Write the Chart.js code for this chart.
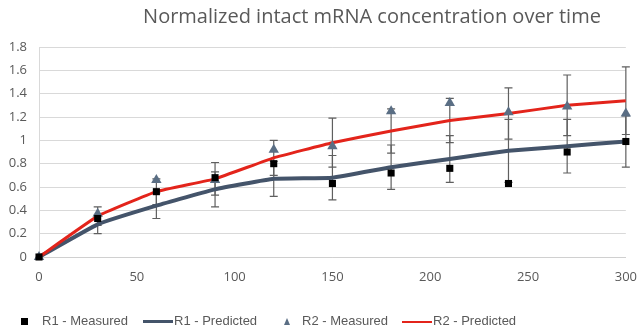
<!DOCTYPE html>
<html>
<head>
<meta charset="utf-8">
<script src="https://cdn.jsdelivr.net/npm/chart.js@4/dist/chart.umd.min.js"></script>
<style>
  body { margin: 0; background: #fff; }
  #wrap { position: relative; width: 641px; height: 334px; }
  #title { position: absolute; left: 143px; top: 3px; width: 458px; text-align: center;
    font: 20px "Open Sans", sans-serif; color: #595959; line-height: 26px; white-space: nowrap; }
  #legend { position: absolute; left: 0; top: 312px; width: 641px; height: 18px;
    font: 13px "Liberation Sans", sans-serif; color: #595959; }
  .item { position: absolute; top: 0; line-height: 18px; white-space: nowrap; }
  .mk { display: inline-block; vertical-align: middle; }
</style>
</head>
<body>
<div id="wrap">
  <canvas id="chart_one" width="641" height="334"></canvas>
  <div id="title">Normalized intact mRNA concentration over time</div>
  <div id="legend"></div>
</div>
<script>
const times = [0, 30, 60, 90, 120, 150, 180, 210, 240, 270, 300];
const r1Measured = [0, 0.33, 0.56, 0.68, 0.80, 0.63, 0.72, 0.76, 0.63, 0.90, 0.99];
const r1Predicted = [0, 0.28, 0.44, 0.58, 0.67, 0.68, 0.77, 0.84, 0.91, 0.95, 0.99];
const r2Measured = [0, 0.37, 0.66, 0.66, 0.92, 0.95, 1.25, 1.32, 1.24, 1.29, 1.23];
const r2Predicted = [0, 0.35, 0.56, 0.67, 0.85, 0.98, 1.08, 1.17, 1.23, 1.30, 1.34];
// error bar half-widths on the predicted series
const r1Err = [0, 0.08, 0.11, 0.15, 0.15, 0.19, 0.19, 0.20, 0.27, 0.23, 0.22];
const r2Err = [0, 0.08, 0.11, 0.14, 0.15, 0.21, 0.19, 0.19, 0.22, 0.26, 0.29];
const yTicks = [0, 0.2, 0.4, 0.6, 0.8, 1, 1.2, 1.4, 1.6, 1.8];

const toPts = arr => times.map((t, i) => ({ x: t, y: arr[i] }));

const errorBars = {
  id: "errorBars",
  beforeDatasetsDraw(chart) {
    const ctx = chart.ctx, xs = chart.scales.x, ys = chart.scales.y;
    ctx.save();
    ctx.strokeStyle = "#5f5f5f";
    ctx.lineWidth = 1.2;
    chart.data.datasets.forEach(ds => {
      if (!ds.errors) return;
      ds.data.forEach((p, i) => {
        const e = ds.errors[i];
        if (!e) return;
        const x = xs.getPixelForValue(p.x);
        const y1 = ys.getPixelForValue(p.y + e), y2 = ys.getPixelForValue(p.y - e);
        ctx.beginPath();
        ctx.moveTo(x, y1); ctx.lineTo(x, y2);
        ctx.moveTo(x - 4, y1); ctx.lineTo(x + 4, y1);
        ctx.moveTo(x - 4, y2); ctx.lineTo(x + 4, y2);
        ctx.stroke();
      });
    });
    ctx.restore();
  }
};

new Chart(document.getElementById("chart_one"), {
  type: "scatter",
  data: {
    datasets: [
      {
        label: "R1 - Measured",
        data: toPts(r1Measured),
        pointStyle: "rect", pointRadius: 5,
        backgroundColor: "#000000", borderColor: "#000000", borderWidth: 0,
        showLine: false, clip: false
      },
      {
        label: "R2 - Measured",
        data: toPts(r2Measured),
        pointStyle: "triangle", pointRadius: 6,
        backgroundColor: "#5a6e84", borderColor: "#5a6e84", borderWidth: 0,
        showLine: false, clip: false
      },
      {
        label: "R2 - Predicted",
        data: toPts(r2Predicted),
        errors: r2Err,
        showLine: true, pointRadius: 0,
        borderColor: "#e3241b", borderWidth: 3, tension: 0.1
      },
      {
        label: "R1 - Predicted",
        data: toPts(r1Predicted),
        errors: r1Err,
        showLine: true, pointRadius: 0,
        borderColor: "#44546a", borderWidth: 4, tension: 0.1
      }
    ]
  },
  options: {
    responsive: false,
    animation: false,
    layout: { padding: { left: 0, right: 14, top: 47, bottom: 0 } },
    plugins: {
      legend: { display: false },
      tooltip: { enabled: false }
    },
    scales: {
      x: {
        type: "linear", min: 0, max: 300,
        ticks: { stepSize: 50, color: "#595959", font: { family: "Open Sans", size: 13 }, padding: 4 },
        grid: { display: false },
        border: { color: "#d0d0d0", width: 1 },
        afterFit(s) { s.height = 77; }
      },
      y: {
        min: 0, max: 1.8,
        afterBuildTicks(s) { s.ticks = yTicks.map(v => ({ value: v })); },
        ticks: {
          color: "#595959", font: { family: "Open Sans", size: 13 }, padding: 12,
          callback: v => String(Math.round(v * 10) / 10)
        },
        grid: { color: "#d9d9d9", lineWidth: 1, drawTicks: false },
        border: { color: "#d9d9d9", width: 1 },
        afterFit(s) { s.width = 39; }
      }
    }
  },
  plugins: [errorBars]
});

const legendItems = [
  { x: 21, text: "R1 - Measured", mk: '<span class="mk" style="width:7px;height:7px;background:#000;margin-right:14px"></span>' },
  { x: 143, text: "R1 - Predicted", mk: '<span class="mk" style="width:30px;height:3px;background:#44546a;margin-right:1px"></span>' },
  { x: 284, text: "R2 - Measured", mk: '<span class="mk" style="width:0;height:0;border-left:3.5px solid transparent;border-right:3.5px solid transparent;border-bottom:7px solid #5a6e84;margin-right:12px"></span>' },
  { x: 402, text: "R2 - Predicted", mk: '<span class="mk" style="width:30px;height:2px;background:#e3241b;margin-right:1px"></span>' }
];
const lg = document.getElementById("legend");
legendItems.forEach(it => {
  const d = document.createElement("div");
  d.className = "item";
  d.style.left = it.x + "px";
  d.innerHTML = it.mk + it.text;
  lg.appendChild(d);
});
</script>
</body>
</html>
